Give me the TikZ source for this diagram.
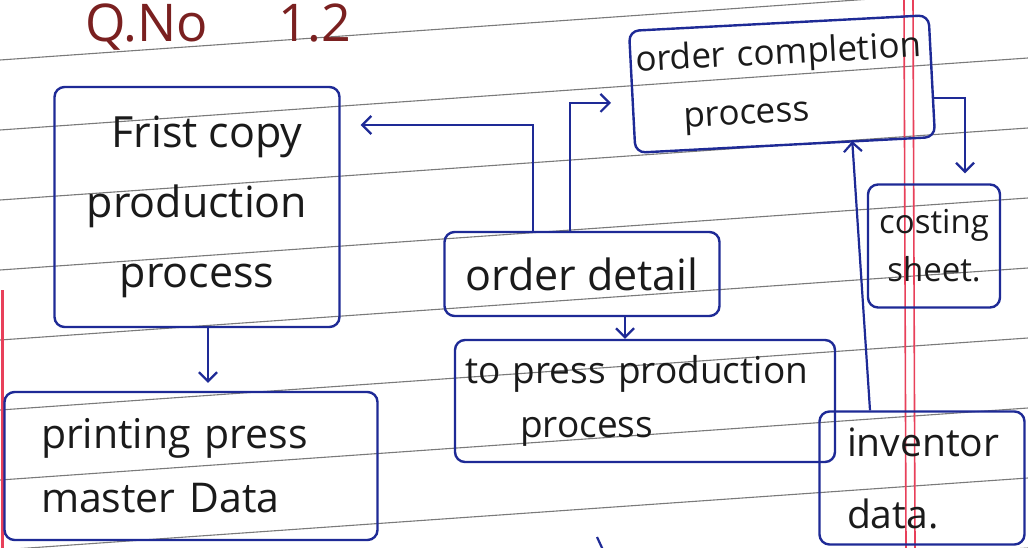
\documentclass[tikz,border=0pt]{standalone}
\usepackage{fontspec}
\setmainfont{Open Sans}
\usetikzlibrary{arrows.meta,calc}
\definecolor{ink}{HTML}{1E2A96}
\definecolor{pencil}{HTML}{1A1A1A}
\definecolor{ruled}{HTML}{7A7A7A}
\definecolor{marginred}{HTML}{E8405A}
\definecolor{headred}{HTML}{7A2020}
\begin{document}
\begin{tikzpicture}[x=1pt,y=-1pt,
  box/.style={draw=ink, line width=2.4pt, rounded corners=10pt, inner sep=0pt, text=pencil},
  flow/.style={draw=ink, line width=2.2pt, -{Straight Barb[length=9pt,width=18pt]}},
  rule/.style={draw=ruled, line width=1.1pt},
  margin/.style={draw=marginred, line width=1.6pt}]
\useasboundingbox (0,0) rectangle (1028,548);
\clip (0,0) rectangle (1028,548);
\fill[white] (0,0) rectangle (1028,548);

% ruled notebook lines, slightly tilted
\foreach \k in {0,...,9}
  \draw[rule] (0,{-10+70*\k}) -- (1028,{-10+70*\k-72});

% margin lines
\draw[margin] (904,0) -- (906,548);
\draw[margin] (913,0) -- (915,548);
\draw[margin, line width=3pt] (2,290) -- (2,548);

% heading
\node[anchor=base west, text=headred, font=\fontsize{52}{60}\selectfont, inner sep=0pt]
  (heading) at (85,42) {Q.No\hspace{70pt}1.2};

% process boxes
\node[box, minimum width=285pt, minimum height=240pt, align=center,
      font=\fontsize{43}{70}\selectfont] (first) at (197,207)
      {\hspace*{20pt}Frist copy\\production\\process};
\node[box, minimum width=373pt, minimum height=148pt, align=left, text width=300pt,
      font=\fontsize{41}{64}\selectfont] (press) at (191,466)
      {printing press\\master Data};
\node[box, minimum width=275pt, minimum height=84pt,
      font=\fontsize{43}{48}\selectfont] (detail) at (582,274) {order detail};
\node[box, minimum width=380pt, minimum height=122pt, align=left, text width=360pt,
      font=\fontsize{37}{54}\selectfont] (topress) at (645,401)
      {to press production\\\hspace*{55pt}process};
\node[box, rotate=3, minimum width=300pt, minimum height=122pt, align=left, text width=290pt,
      font=\fontsize{35}{58}\selectfont] (complete) at (782,84)
      {order completion\\\hspace*{45pt}process};
\node[box, minimum width=132pt, minimum height=123pt, align=center,
      font=\fontsize{33}{48}\selectfont] (costing) at (934,246) {costing\\sheet.};
\node[box, minimum width=205pt, minimum height=133pt, align=left, text width=150pt,
      font=\fontsize{39}{72}\selectfont] (inventory) at (922,478) {inventor\\data.};

% connectors
\draw[flow, shorten >=8pt] ([xshift=11pt]first.south) -- ([xshift=17pt]press.north);
\draw[flow] ([xshift=-49pt]detail.north) |- ([xshift=20pt,yshift=82pt]first.east);
\draw[flow] ([xshift=-12pt]detail.north) |- ([xshift=-20pt,yshift=-11pt]complete.west);
\draw[flow] ([yshift=-22pt]complete.east) -| ([xshift=31pt,yshift=10pt]costing.north);
\draw[flow] ([xshift=-52pt]inventory.north) -- ([xshift=67pt,yshift=5pt]complete.south);
\draw[flow] ([xshift=43pt]detail.south) -- ([xshift=-20pt]topress.north);

% stroke running off the lower edge
\coordinate (tickA) at (597,537);
\coordinate (tickB) at (603,550);
\draw[ink, line width=2.2pt] (tickA) -- (tickB);
\end{tikzpicture}
\end{document}
